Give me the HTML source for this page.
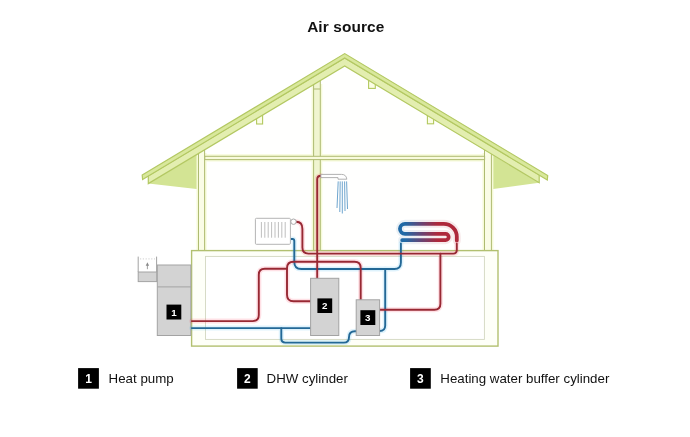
<!DOCTYPE html>
<html>
<head>
<meta charset="utf-8">
<title>Air source</title>
<style>
html,body{margin:0;padding:0;background:#fff;}
body{width:690px;height:437px;overflow:hidden;position:relative;font-family:"Liberation Sans",Arial,sans-serif;}
svg{position:absolute;left:0;top:0;display:block;will-change:transform;}
text{font-family:"Liberation Sans",Arial,sans-serif;}
</style>
</head>
<body>
<svg width="690" height="437" viewBox="0 0 690 437">
<defs>
<linearGradient id="coil" gradientUnits="userSpaceOnUse" x1="405" y1="0" x2="438" y2="0">
<stop offset="0" stop-color="#206aa6"/>
<stop offset="0.5" stop-color="#684474"/>
<stop offset="1" stop-color="#ae283a"/>
</linearGradient>
</defs>
<rect x="0" y="0" width="690" height="437" fill="#ffffff"/>

<!-- title -->
<text x="345.8" y="32.2" font-size="15.4" letter-spacing="0.12" font-weight="700" text-anchor="middle" fill="#111">Air source</text>

<!-- house interior -->
<polygon points="205,149.7 344.7,65.9 485,150.1 485,251 205,251" fill="#fffffe"/>

<!-- soffits -->
<polygon points="148.3,183.6 198.75,189.2 198.75,153.4" fill="#d3e494"/>
<polygon points="539.2,182.7 491.25,189.2 491.25,153.9" fill="#d3e494"/>

<!-- line halos -->
<g fill="none" stroke="#f6fad8" stroke-width="4">
<path d="M198.5 153V251M204.6 153V251M484.5 153V251M491.4 153V251M313.6 84V251M320.3 84V251M205 156.3H484.5M205 159.6H484.5"/>
</g>
<!-- walls -->
<rect x="198.5" y="150" width="6.1" height="101" fill="#fafce6" stroke="#aebb72" stroke-width="1"/>
<rect x="484.5" y="150" width="6.9" height="101" fill="#fafce6" stroke="#aebb72" stroke-width="1"/>
<!-- central post -->
<rect x="313.6" y="80" width="6.7" height="171" fill="#f0f5d0" stroke="#aebb72" stroke-width="1"/>
<line x1="313.6" y1="89" x2="320.3" y2="89" stroke="#aebb72" stroke-width="1"/>
<!-- ceiling beam -->
<rect x="204.8" y="156.3" width="279.8" height="3.3" fill="#f8fadc" stroke="#aebb72" stroke-width="1"/>
<!-- purlins -->
<rect x="256.6" y="112" width="6" height="12" fill="#fbfde6" stroke="#b3c95f" stroke-width="1.1"/>
<rect x="368.6" y="77" width="6.7" height="11.4" fill="#fbfde6" stroke="#b3c95f" stroke-width="1.1"/>
<rect x="427.4" y="112" width="6.2" height="11.8" fill="#fbfde6" stroke="#b3c95f" stroke-width="1.1"/>

<!-- roof rafter -->
<polygon points="148.3,175.7 344.7,58.0 539.2,174.8 539.2,182.7 344.7,65.9 148.3,183.6" fill="#e3eeb0" stroke="#b3c862" stroke-width="1.2" stroke-linejoin="miter"/>
<!-- roof cover -->
<polygon points="142.2,175.0 344.7,53.6 547.7,175.5 547.3,180.0 344.7,58.0 142.6,179.5" fill="#d9e89c" stroke="#b3c862" stroke-width="1.2" stroke-linejoin="miter"/>

<!-- basement -->
<rect x="191.6" y="250.6" width="306.4" height="95.5" fill="#fefff8" stroke="#b2c070" stroke-width="1.4"/>
<rect x="205.5" y="256.4" width="278.9" height="83" fill="#ffffff" stroke="#d3d8c0" stroke-width="0.9"/>

<!-- heat pump -->
<rect x="157.3" y="265" width="33.5" height="70.5" fill="#d3d3d3" stroke="#a3a3a3" stroke-width="1"/>
<line x1="157.3" y1="286.9" x2="190.8" y2="286.9" stroke="#a3a3a3" stroke-width="1"/>
<rect x="138.2" y="272" width="18.5" height="9.6" fill="#d3d3d3" stroke="#a3a3a3" stroke-width="1"/>
<path d="M138.2 256.6V272M156.6 256.6V272" stroke="#a3a3a3" stroke-width="1" fill="none"/>
<line x1="140" y1="258.9" x2="155" y2="258.9" stroke="#c4c4c4" stroke-width="0.8" stroke-dasharray="1.2 1.6"/>
<path d="M147.4 269.2V264" stroke="#8a8a8a" stroke-width="0.8" fill="none"/>
<polygon points="147.4,262.2 145.7,265.8 149.1,265.8" fill="#8a8a8a"/>

<!-- pipe halos -->
<g fill="none" stroke="#20a8f0" stroke-width="5" stroke-linecap="round" stroke-linejoin="round" opacity="0.14">
<path d="M191.8 328.1H310.8"/>
<path d="M281.3 328.1V338.6Q281.3 342.6 285.3 342.6H343.8Q349 342.6 349 337.2Q349 331.3 355 331.3H356.3"/>
<path d="M291 239H292.5Q294.3 239 294.3 241V262Q294.3 269 301.3 269H394.4Q400.9 269 400.9 262.5V243.5"/>
<path d="M385.2 269V325.5Q385.2 331 379.6 331"/>
</g>
<g fill="none" stroke="#ff2c50" stroke-width="5" stroke-linecap="round" stroke-linejoin="round" opacity="0.14">
<path d="M191.8 321.1H252.8Q258.8 321.1 258.8 315.1V274.8Q258.8 268.8 264.8 268.8H287"/>
<path d="M310.8 301.2H293.5Q287 301.2 287 294.7V268.3Q287 261.8 293.5 261.8H354.5Q360.7 261.8 360.7 268V300"/>
<path d="M296.3 221.8C300 221.8 302.4 224.5 302.4 229V247.6Q302.4 253.6 308.4 253.6H453.3Q456.8 253.6 456.8 250.1V243.8"/>
<path d="M317.2 278.3V179.3Q317.2 175.8 321 175.8"/>
<path d="M440.4 253.6V303.8Q440.4 309.8 434.4 309.8H380"/>
</g>
<!-- pipes blue -->
<g fill="none" stroke="#236896" stroke-width="1.9" stroke-linecap="round" stroke-linejoin="round">
<path d="M191.8 328.1H310.8"/>
<path d="M281.3 328.1V338.6Q281.3 342.6 285.3 342.6H343.8Q349 342.6 349 337.2Q349 331.3 355 331.3H356.3"/>
<path d="M291 239H292.5Q294.3 239 294.3 241V262Q294.3 269 301.3 269H394.4Q400.9 269 400.9 262.5V243.5"/>
<path d="M385.2 269V325.5Q385.2 331 379.6 331"/>
</g>
<!-- pipes red -->
<g fill="none" stroke="#982833" stroke-width="1.9" stroke-linecap="round" stroke-linejoin="round">
<path d="M191.8 321.1H252.8Q258.8 321.1 258.8 315.1V274.8Q258.8 268.8 264.8 268.8H287"/>
<path d="M310.8 301.2H293.5Q287 301.2 287 294.7V268.3Q287 261.8 293.5 261.8H354.5Q360.7 261.8 360.7 268V300"/>
<path d="M296.3 221.8C300 221.8 302.4 224.5 302.4 229V247.6Q302.4 253.6 308.4 253.6H453.3Q456.8 253.6 456.8 250.1V243.8"/>
<path d="M317.2 278.3V179.3Q317.2 175.8 321 175.8"/>
<path d="M440.4 253.6V303.8Q440.4 309.8 434.4 309.8H380"/>
</g>

<!-- underfloor coil -->
<path d="M456.8 240.6V236.8A13 13 0 0 0 443.8 223.8H405A5.05 5.05 0 0 0 405 233.9H445.5A3.15 3.15 0 0 1 445.5 240.2H402.2" fill="none" stroke="url(#coil)" stroke-width="8" stroke-linecap="round" stroke-linejoin="round" opacity="0.1"/>
<path d="M456.8 240.6V236.8A13 13 0 0 0 443.8 223.8H405A5.05 5.05 0 0 0 405 233.9H445.5A3.15 3.15 0 0 1 445.5 240.2H402.2" fill="none" stroke="url(#coil)" stroke-width="3.8" stroke-linecap="round" stroke-linejoin="round"/>

<!-- radiator -->
<rect x="255.4" y="218.3" width="35" height="26" rx="1" fill="#fff" stroke="#b4b4b4" stroke-width="1"/>
<path d="M261.4 222V237.7M264.8 222V237.7M268.2 222V237.7M271.6 222V237.7M275 222V237.7M278.4 222V237.7M281.8 222V237.7M285.2 222V237.7" stroke="#adadad" stroke-width="0.8" fill="none"/>
<circle cx="293.5" cy="221.7" r="2.7" fill="#fff" stroke="#a9a9a9" stroke-width="1"/>

<!-- shower -->
<path d="M320.9 174.4H341.5Q346.3 174.4 346.8 179.2H338V177.6H320.9Z" fill="#fff" stroke="#a9a9a9" stroke-width="0.9" stroke-linejoin="round"/>
<g stroke="#6fa6cf" stroke-width="1" fill="none">
<path d="M338.2 181.4L337 208"/>
<path d="M340.2 181.4L339.8 212"/>
<path d="M342.3 181.4L342.3 213.5"/>
<path d="M344.6 181.4L345 211"/>
<path d="M346.6 181.4L347.5 209"/>
</g>

<!-- cylinders -->
<rect x="310.6" y="278.3" width="28.2" height="57.2" fill="#d3d3d3" stroke="#a3a3a3" stroke-width="1"/>
<rect x="356.2" y="299.8" width="23.4" height="35.7" fill="#d3d3d3" stroke="#a3a3a3" stroke-width="1"/>

<!-- number labels -->
<rect x="166.5" y="304.6" width="14.8" height="14.9" fill="#000"/>
<text x="173.9" y="315.5" font-size="9.8" font-weight="700" text-anchor="middle" fill="#fff">1</text>
<rect x="317.4" y="298.4" width="14.8" height="14.6" fill="#000"/>
<text x="324.8" y="309.2" font-size="9.8" font-weight="700" text-anchor="middle" fill="#fff">2</text>
<rect x="360.4" y="310.2" width="14.9" height="14.8" fill="#000"/>
<text x="367.8" y="321.1" font-size="9.8" font-weight="700" text-anchor="middle" fill="#fff">3</text>

<!-- legend -->
<rect x="78.1" y="368.1" width="20.8" height="20.6" fill="#000"/>
<text x="88.5" y="382.6" font-size="12" font-weight="700" text-anchor="middle" fill="#fff">1</text>
<text x="108.6" y="382.7" font-size="13.3" fill="#111">Heat pump</text>
<rect x="237.1" y="368.1" width="20.6" height="20.6" fill="#000"/>
<text x="247.3" y="382.6" font-size="12" font-weight="700" text-anchor="middle" fill="#fff">2</text>
<text x="266.6" y="382.7" font-size="13.3" fill="#111">DHW cylinder</text>
<rect x="410.1" y="368.1" width="20.7" height="20.6" fill="#000"/>
<text x="420.4" y="382.6" font-size="12" font-weight="700" text-anchor="middle" fill="#fff">3</text>
<text x="440.3" y="382.7" font-size="13.3" fill="#111">Heating water buffer cylinder</text>
</svg>
</body>
</html>
